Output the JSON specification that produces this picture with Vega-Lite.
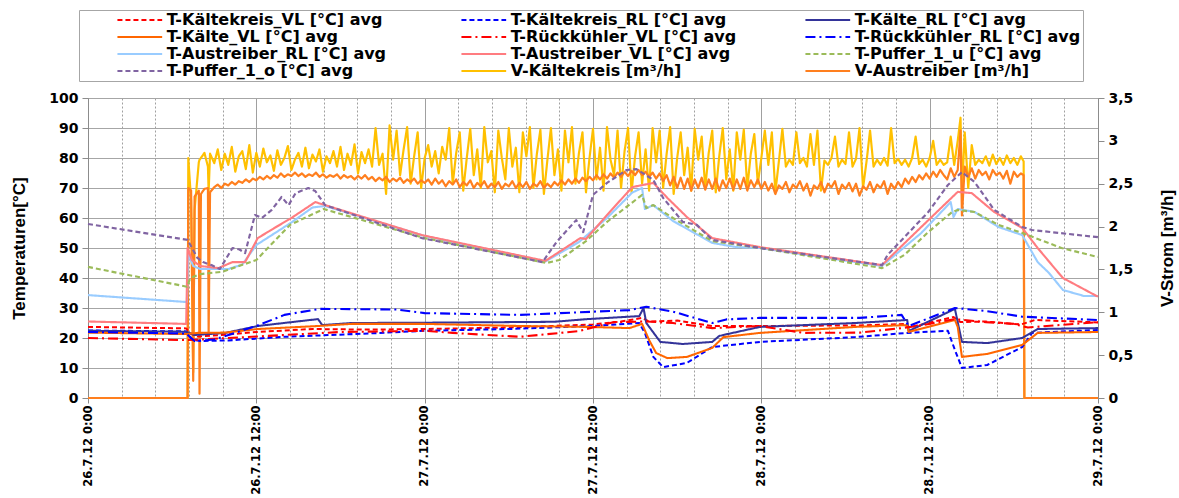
{
"$schema": "https://vega.github.io/schema/vega-lite/v6.json",
"width": 1010, "height": 300,
"autosize": "none",
"padding": {"left": 88, "top": 98, "right": 81, "bottom": 100},
"background": "white",
"config": {"view": {"stroke": "#A0A0A0"}, "font": "DejaVu Sans"},
"datasets": {
"v": [
{"h":0,"k":0,"l":0},{"h":7.1,"k":0,"l":0},{"h":7.15,"k":2.8,"l":2.45},{"h":7.35,"k":2.3,"l":2.42},{"h":7.5,"k":0.3,"l":0.2},{"h":7.6,"k":2.2,"l":2.35},{"h":7.9,"k":2.75,"l":2.42},{"h":7.95,"k":2.78,"l":0.05},{"h":8.05,"k":2.8,"l":2.38},{"h":8.3,"k":2.86,"l":2.44},{"h":8.55,"k":2.7,"l":2.45},{"h":8.6,"k":2.4,"l":0.77},{"h":8.7,"k":2.85,"l":2.4},
{"h":9.0,"k":2.74,"l":2.46},{"h":9.25,"k":2.9,"l":2.49},{"h":9.5,"k":2.66,"l":2.45},{"h":9.75,"k":2.85,"l":2.5},{"h":10.0,"k":2.72,"l":2.48},{"h":10.25,"k":2.93,"l":2.52},{"h":10.5,"k":2.64,"l":2.49},{"h":10.75,"k":2.82,"l":2.53},{"h":11.0,"k":2.88,"l":2.51},{"h":11.25,"k":2.67,"l":2.55},{"h":11.5,"k":2.95,"l":2.52},{"h":11.75,"k":2.63,"l":2.56},{"h":12.0,"k":2.86,"l":2.54},{"h":12.25,"k":2.7,"l":2.58},{"h":12.5,"k":2.91,"l":2.55},{"h":12.75,"k":2.75,"l":2.59},{"h":13.0,"k":2.83,"l":2.56},{"h":13.25,"k":2.65,"l":2.6},{"h":13.5,"k":2.89,"l":2.57},{"h":13.75,"k":2.72,"l":2.62},{"h":14.0,"k":2.8,"l":2.58},{"h":14.25,"k":2.94,"l":2.61},{"h":14.5,"k":2.66,"l":2.59},{"h":14.75,"k":2.78,"l":2.63},{"h":15.0,"k":2.86,"l":2.59},{"h":15.25,"k":2.7,"l":2.62},{"h":15.5,"k":2.92,"l":2.58},{"h":15.75,"k":2.68,"l":2.61},{"h":16.0,"k":2.84,"l":2.59},{"h":16.25,"k":2.76,"l":2.63},{"h":16.5,"k":2.9,"l":2.58},{"h":16.75,"k":2.64,"l":2.61},{"h":17.0,"k":2.82,"l":2.57},{"h":17.25,"k":2.74,"l":2.6},{"h":17.5,"k":2.88,"l":2.58},{"h":17.75,"k":2.7,"l":2.61},{"h":18.0,"k":2.93,"l":2.56},{"h":18.25,"k":2.66,"l":2.6},{"h":18.5,"k":2.85,"l":2.57},{"h":18.75,"k":2.72,"l":2.59},{"h":19.0,"k":2.96,"l":2.55},{"h":19.25,"k":2.62,"l":2.59},{"h":19.5,"k":2.87,"l":2.56},{"h":19.75,"k":2.74,"l":2.6},{"h":20.0,"k":2.9,"l":2.55},
{"h":20.25,"k":2.7,"l":2.58},{"h":20.5,"k":3.15,"l":2.53},{"h":20.75,"k":2.72,"l":2.57},{"h":21.0,"k":2.85,"l":2.54},{"h":21.25,"k":2.38,"l":2.58},{"h":21.5,"k":3.18,"l":2.52},{"h":21.75,"k":2.78,"l":2.56},{"h":22.0,"k":3.12,"l":2.53},{"h":22.25,"k":2.6,"l":2.57},{"h":22.5,"k":2.9,"l":2.51},{"h":22.75,"k":3.16,"l":2.55},{"h":23.0,"k":2.5,"l":2.52},{"h":23.25,"k":2.82,"l":2.56},{"h":23.5,"k":3.1,"l":2.5},{"h":23.75,"k":2.45,"l":2.54},{"h":24.0,"k":2.8,"l":2.51},
{"h":24.25,"k":2.95,"l":2.55},{"h":24.5,"k":2.7,"l":2.49},{"h":24.75,"k":2.88,"l":2.56},{"h":25.0,"k":2.62,"l":2.5},{"h":25.25,"k":2.93,"l":2.54},{"h":25.5,"k":2.78,"l":2.47},{"h":25.75,"k":3.15,"l":2.53},{"h":26.0,"k":2.5,"l":2.49},{"h":26.25,"k":2.86,"l":2.55},{"h":26.5,"k":3.1,"l":2.46},{"h":26.75,"k":2.42,"l":2.52},{"h":27.0,"k":2.8,"l":2.48},{"h":27.25,"k":3.14,"l":2.54},{"h":27.5,"k":2.6,"l":2.45},{"h":27.75,"k":2.9,"l":2.51},{"h":28.0,"k":2.45,"l":2.47},{"h":28.25,"k":3.16,"l":2.53},{"h":28.5,"k":2.75,"l":2.45},{"h":28.75,"k":2.88,"l":2.5},{"h":29.0,"k":2.4,"l":2.46},{"h":29.25,"k":3.12,"l":2.52},{"h":29.5,"k":2.8,"l":2.44},{"h":29.75,"k":2.55,"l":2.5},{"h":30.0,"k":3.15,"l":2.47},{"h":30.25,"k":2.7,"l":2.53},{"h":30.5,"k":2.92,"l":2.45},{"h":30.75,"k":2.4,"l":2.51},{"h":31.0,"k":3.1,"l":2.46},{"h":31.25,"k":2.82,"l":2.52},{"h":31.5,"k":3.16,"l":2.44},{"h":31.75,"k":2.45,"l":2.5},{"h":32.0,"k":2.85,"l":2.47},{"h":32.25,"k":3.13,"l":2.53},{"h":32.5,"k":2.38,"l":2.45},{"h":32.75,"k":2.78,"l":2.5},{"h":33.0,"k":3.15,"l":2.46},{"h":33.25,"k":2.6,"l":2.52},{"h":33.5,"k":2.9,"l":2.48},{"h":33.75,"k":2.42,"l":2.54},{"h":34.0,"k":3.12,"l":2.49},{"h":34.25,"k":2.75,"l":2.55},{"h":34.5,"k":3.16,"l":2.5},{"h":34.75,"k":2.5,"l":2.56},{"h":35.0,"k":2.86,"l":2.51},{"h":35.25,"k":3.1,"l":2.57},{"h":35.5,"k":2.4,"l":2.53},{"h":35.75,"k":2.8,"l":2.58},{"h":36.0,"k":3.14,"l":2.54},{"h":36.25,"k":2.55,"l":2.6},{"h":36.5,"k":2.92,"l":2.55},{"h":36.75,"k":2.42,"l":2.61},{"h":37.0,"k":3.16,"l":2.56},{"h":37.25,"k":2.78,"l":2.62},{"h":37.5,"k":2.6,"l":2.57},{"h":37.75,"k":3.12,"l":2.63},{"h":38.0,"k":2.45,"l":2.58},{"h":38.25,"k":2.88,"l":2.64},{"h":38.5,"k":3.15,"l":2.59},{"h":38.75,"k":2.4,"l":2.65},{"h":39.0,"k":2.82,"l":2.6},{"h":39.25,"k":3.1,"l":2.66},{"h":39.5,"k":2.5,"l":2.6},{"h":39.75,"k":2.9,"l":2.64},{"h":40.0,"k":2.42,"l":2.58},{"h":40.25,"k":3.15,"l":2.63},{"h":40.5,"k":2.75,"l":2.56},{"h":40.75,"k":3.12,"l":2.62},{"h":41.0,"k":2.45,"l":2.53},{"h":41.25,"k":2.85,"l":2.6},{"h":41.5,"k":3.16,"l":2.48},{"h":41.75,"k":2.38,"l":2.58},{"h":42.0,"k":2.8,"l":2.45},{"h":42.25,"k":3.1,"l":2.57},{"h":42.5,"k":2.6,"l":2.44},{"h":42.75,"k":2.92,"l":2.56},{"h":43.0,"k":2.42,"l":2.42},{"h":43.25,"k":3.14,"l":2.55},{"h":43.5,"k":2.78,"l":2.45},{"h":43.75,"k":3.05,"l":2.57},{"h":44.0,"k":2.45,"l":2.43},{"h":44.25,"k":2.86,"l":2.55},{"h":44.5,"k":3.12,"l":2.44},{"h":44.75,"k":2.4,"l":2.56},{"h":45.0,"k":2.82,"l":2.42},{"h":45.25,"k":3.15,"l":2.54},{"h":45.5,"k":2.55,"l":2.45},{"h":45.75,"k":2.9,"l":2.56},{"h":46.0,"k":2.42,"l":2.43},{"h":46.25,"k":3.1,"l":2.55},{"h":46.5,"k":2.78,"l":2.44},{"h":46.75,"k":3.13,"l":2.57},{"h":47.0,"k":2.45,"l":2.42},{"h":47.25,"k":2.85,"l":2.54},{"h":47.5,"k":3.08,"l":2.46},{"h":47.75,"k":2.5,"l":2.55},{"h":48.0,"k":2.8,"l":2.44},
{"h":48.25,"k":3.12,"l":2.52},{"h":48.5,"k":2.72,"l":2.42},{"h":48.75,"k":3.1,"l":2.5},{"h":49.0,"k":2.4,"l":2.38},{"h":49.25,"k":2.76,"l":2.48},{"h":49.5,"k":3.14,"l":2.44},{"h":49.75,"k":2.7,"l":2.52},{"h":50.0,"k":2.78,"l":2.4},{"h":50.25,"k":2.72,"l":2.49},{"h":50.5,"k":3.1,"l":2.45},{"h":50.75,"k":2.74,"l":2.53},{"h":51.0,"k":2.8,"l":2.42},{"h":51.25,"k":2.7,"l":2.5},{"h":51.5,"k":3.08,"l":2.36},{"h":51.75,"k":2.72,"l":2.48},{"h":52.0,"k":3.12,"l":2.44},{"h":52.25,"k":2.42,"l":2.52},{"h":52.5,"k":2.77,"l":2.4},{"h":52.75,"k":2.72,"l":2.5},{"h":53.0,"k":2.8,"l":2.46},{"h":53.25,"k":3.05,"l":2.53},{"h":53.5,"k":2.7,"l":2.38},{"h":53.75,"k":2.78,"l":2.49},{"h":54.0,"k":2.73,"l":2.44},{"h":54.25,"k":3.1,"l":2.51},{"h":54.5,"k":2.7,"l":2.41},{"h":54.75,"k":2.79,"l":2.5},{"h":55.0,"k":3.15,"l":2.36},{"h":55.25,"k":2.45,"l":2.47},{"h":55.5,"k":2.76,"l":2.43},{"h":55.75,"k":3.12,"l":2.52},{"h":56.0,"k":2.7,"l":2.4},{"h":56.25,"k":2.78,"l":2.49},{"h":56.5,"k":2.72,"l":2.45},{"h":56.75,"k":2.8,"l":2.53},{"h":57.0,"k":2.71,"l":2.38},{"h":57.25,"k":3.15,"l":2.5},{"h":57.5,"k":2.74,"l":2.44},{"h":57.75,"k":2.79,"l":2.52},{"h":58.0,"k":2.72,"l":2.46},{"h":58.25,"k":2.78,"l":2.56},{"h":58.5,"k":2.7,"l":2.5},{"h":58.75,"k":2.8,"l":2.58},{"h":59.0,"k":3.05,"l":2.52},{"h":59.25,"k":2.73,"l":2.6},{"h":59.5,"k":2.78,"l":2.55},{"h":59.75,"k":2.7,"l":2.62},{"h":60.0,"k":2.8,"l":2.56},{"h":60.25,"k":3.0,"l":2.64},{"h":60.5,"k":2.72,"l":2.58},{"h":60.75,"k":2.78,"l":2.66},{"h":61.0,"k":2.72,"l":2.6},
{"h":61.25,"k":2.75,"l":2.55},{"h":61.5,"k":3.05,"l":2.68},{"h":61.75,"k":2.72,"l":2.58},{"h":62.0,"k":3.0,"l":2.66},{"h":62.2,"k":3.27,"l":3.12},{"h":62.3,"k":2.4,"l":2.13},{"h":62.5,"k":3.1,"l":2.7},{"h":62.75,"k":2.45,"l":2.58},{"h":63.0,"k":2.95,"l":2.68},{"h":63.25,"k":2.72,"l":2.56},{"h":63.5,"k":2.78,"l":2.66},{"h":63.75,"k":2.74,"l":2.6},{"h":64.0,"k":2.82,"l":2.64},{"h":64.25,"k":2.71,"l":2.55},{"h":64.5,"k":2.84,"l":2.66},{"h":64.75,"k":2.73,"l":2.6},{"h":65.0,"k":2.8,"l":2.63},{"h":65.25,"k":2.72,"l":2.56},{"h":65.5,"k":2.83,"l":2.65},{"h":65.75,"k":2.74,"l":2.5},{"h":66.0,"k":2.8,"l":2.64},{"h":66.25,"k":2.72,"l":2.58},{"h":66.5,"k":2.82,"l":2.62},{"h":66.7,"k":2.76,"l":2.6},{"h":66.75,"k":0,"l":0},{"h":72,"k":0,"l":0}
],
"t": [
{"s":"a","h":0,"v":23.7},{"s":"a","h":7.0,"v":23.2},{"s":"a","h":7.3,"v":21.5},{"s":"a","h":7.8,"v":20.5},{"s":"a","h":9.5,"v":21},{"s":"a","h":12,"v":22},{"s":"a","h":16,"v":23},{"s":"a","h":20,"v":22.8},{"s":"a","h":24,"v":23},{"s":"a","h":30,"v":23.5},{"s":"a","h":36,"v":24.5},{"s":"a","h":38,"v":25.5},{"s":"a","h":39.5,"v":26.7},{"s":"a","h":40,"v":25.5},{"s":"a","h":42,"v":25.8},{"s":"a","h":44.5,"v":24},{"s":"a","h":48,"v":24},{"s":"a","h":55,"v":24.2},{"s":"a","h":58.3,"v":24.7},{"s":"a","h":58.5,"v":23.5},{"s":"a","h":61.7,"v":27},{"s":"a","h":62.2,"v":25.3},{"s":"a","h":64,"v":25.5},{"s":"a","h":66.5,"v":24.5},{"s":"a","h":67.5,"v":26},{"s":"a","h":72,"v":25.2},
{"s":"b","h":0,"v":22.5},{"s":"b","h":7.0,"v":22.2},{"s":"b","h":7.4,"v":19.5},{"s":"b","h":8,"v":19},{"s":"b","h":10,"v":19.2},{"s":"b","h":14,"v":20.4},{"s":"b","h":20,"v":21.5},{"s":"b","h":24,"v":22.4},{"s":"b","h":30,"v":23},{"s":"b","h":36,"v":24},{"s":"b","h":39.3,"v":25},{"s":"b","h":39.7,"v":21.7},{"s":"b","h":40.3,"v":13.7},{"s":"b","h":41,"v":10.3},{"s":"b","h":42.7,"v":11.7},{"s":"b","h":44.5,"v":17},{"s":"b","h":47.9,"v":18.7},{"s":"b","h":54.7,"v":20.3},{"s":"b","h":58.4,"v":21.7},{"s":"b","h":61.3,"v":22.4},{"s":"b","h":61.8,"v":16},{"s":"b","h":62.3,"v":10},{"s":"b","h":64.1,"v":11},{"s":"b","h":66.6,"v":17},{"s":"b","h":67.3,"v":21.7},{"s":"b","h":72,"v":22.7},
{"s":"c","h":0,"v":22.4},{"s":"c","h":7.0,"v":22.1},{"s":"c","h":7.6,"v":21},{"s":"c","h":9.8,"v":21.7},{"s":"c","h":12.1,"v":24},{"s":"c","h":16.4,"v":26.3},{"s":"c","h":16.7,"v":24.3},{"s":"c","h":18.8,"v":25},{"s":"c","h":24,"v":25.1},{"s":"c","h":33.2,"v":25.4},{"s":"c","h":35.6,"v":26.3},{"s":"c","h":39.3,"v":27.3},{"s":"c","h":39.6,"v":30},{"s":"c","h":39.8,"v":25},{"s":"c","h":40.8,"v":18.7},{"s":"c","h":42.4,"v":18},{"s":"c","h":44.5,"v":18.7},{"s":"c","h":45,"v":20.7},{"s":"c","h":47.9,"v":23.7},{"s":"c","h":54.7,"v":25},{"s":"c","h":58.4,"v":26},{"s":"c","h":58.5,"v":22.3},{"s":"c","h":61.8,"v":29.7},{"s":"c","h":62.3,"v":18.7},{"s":"c","h":64.1,"v":18.3},{"s":"c","h":66.6,"v":20},{"s":"c","h":67.7,"v":23},{"s":"c","h":72,"v":23.3},
{"s":"d","h":0,"v":21.8},{"s":"d","h":7.0,"v":21.3},{"s":"d","h":7.8,"v":21.7},{"s":"d","h":9.8,"v":21.8},{"s":"d","h":12.1,"v":23},{"s":"d","h":16.4,"v":24},{"s":"d","h":18.8,"v":24.7},{"s":"d","h":24,"v":24.7},{"s":"d","h":30.8,"v":24},{"s":"d","h":35.6,"v":23.7},{"s":"d","h":38.6,"v":23.3},{"s":"d","h":39.5,"v":24.7},{"s":"d","h":40,"v":19.3},{"s":"d","h":40.5,"v":15},{"s":"d","h":41.3,"v":13.3},{"s":"d","h":42.7,"v":13.7},{"s":"d","h":44.5,"v":16.7},{"s":"d","h":45.3,"v":20.3},{"s":"d","h":47.9,"v":21.7},{"s":"d","h":54.7,"v":23.7},{"s":"d","h":58.4,"v":24.3},{"s":"d","h":58.5,"v":22},{"s":"d","h":61.8,"v":26},{"s":"d","h":62,"v":23.7},{"s":"d","h":62.3,"v":13.7},{"s":"d","h":64.1,"v":14.7},{"s":"d","h":66.6,"v":17.7},{"s":"d","h":67.7,"v":21.7},{"s":"d","h":72,"v":22},
{"s":"e","h":0,"v":20},{"s":"e","h":7.0,"v":19.3},{"s":"e","h":8,"v":19.5},{"s":"e","h":12,"v":20.5},{"s":"e","h":18,"v":22},{"s":"e","h":24,"v":22.4},{"s":"e","h":26,"v":21.7},{"s":"e","h":30.8,"v":20.4},{"s":"e","h":35,"v":22.3},{"s":"e","h":37.5,"v":25.3},{"s":"e","h":39.8,"v":25.5},{"s":"e","h":41.7,"v":25},{"s":"e","h":44.5,"v":23.3},{"s":"e","h":47.9,"v":24},{"s":"e","h":51,"v":21.7},{"s":"e","h":55,"v":21.8},{"s":"e","h":58,"v":23.3},{"s":"e","h":59.5,"v":24.3},{"s":"e","h":61.8,"v":26.3},{"s":"e","h":64,"v":25.3},{"s":"e","h":66,"v":24.7},{"s":"e","h":67,"v":23.5},{"s":"e","h":72,"v":25.3},
{"s":"f","h":0,"v":22},{"s":"f","h":7.0,"v":21.5},{"s":"f","h":7.6,"v":19},{"s":"f","h":9,"v":19.5},{"s":"f","h":12,"v":24},{"s":"f","h":14,"v":27.7},{"s":"f","h":16.5,"v":29.7},{"s":"f","h":22,"v":29.5},{"s":"f","h":24,"v":28.3},{"s":"f","h":30.8,"v":27.7},{"s":"f","h":38.6,"v":29.3},{"s":"f","h":39.8,"v":30.4},{"s":"f","h":41.7,"v":28.8},{"s":"f","h":44.5,"v":25},{"s":"f","h":45.5,"v":26.2},{"s":"f","h":47.9,"v":26.7},{"s":"f","h":55,"v":26.7},{"s":"f","h":58,"v":27.7},{"s":"f","h":58.5,"v":24},{"s":"f","h":61.8,"v":30},{"s":"f","h":64,"v":29},{"s":"f","h":66.6,"v":27.1},{"s":"f","h":72,"v":26},
{"s":"g","h":0,"v":34.3},{"s":"g","h":7.0,"v":32},{"s":"g","h":7.05,"v":32},{"s":"g","h":7.15,"v":48},{"s":"g","h":7.5,"v":44},{"s":"g","h":8,"v":43},{"s":"g","h":10,"v":43},{"s":"g","h":11,"v":44.5},{"s":"g","h":12,"v":51},{"s":"g","h":14.5,"v":58.5},{"s":"g","h":16,"v":63.5},{"s":"g","h":16.9,"v":64},{"s":"g","h":24,"v":54},{"s":"g","h":32.6,"v":45.5},{"s":"g","h":35,"v":52},{"s":"g","h":37,"v":60},{"s":"g","h":38.8,"v":68.5},{"s":"g","h":39.5,"v":70},{"s":"g","h":39.7,"v":63},{"s":"g","h":40.3,"v":64.3},{"s":"g","h":41.7,"v":59},{"s":"g","h":44.5,"v":51.7},{"s":"g","h":46.2,"v":50.3},{"s":"g","h":47.9,"v":50},{"s":"g","h":56.6,"v":44},{"s":"g","h":59.4,"v":55},{"s":"g","h":61.5,"v":65.3},{"s":"g","h":61.7,"v":60.3},{"s":"g","h":62,"v":63},{"s":"g","h":63.2,"v":62},{"s":"g","h":64.9,"v":57},{"s":"g","h":66.6,"v":54.3},{"s":"g","h":67.7,"v":45.3},{"s":"g","h":68.5,"v":41.7},{"s":"g","h":69.5,"v":36},{"s":"g","h":71,"v":34},{"s":"g","h":72,"v":34},
{"s":"h","h":0,"v":25.5},{"s":"h","h":7.0,"v":24.7},{"s":"h","h":7.1,"v":50},{"s":"h","h":7.4,"v":46},{"s":"h","h":8,"v":44},{"s":"h","h":9.3,"v":43.3},{"s":"h","h":10.3,"v":45.3},{"s":"h","h":11.2,"v":45.3},{"s":"h","h":12.1,"v":53.3},{"s":"h","h":13.3,"v":56.7},{"s":"h","h":14.5,"v":60},{"s":"h","h":16.2,"v":65.3},{"s":"h","h":16.9,"v":64.3},{"s":"h","h":23.8,"v":54.3},{"s":"h","h":32.6,"v":45.7},{"s":"h","h":35.1,"v":53.3},{"s":"h","h":35.5,"v":53},{"s":"h","h":37,"v":61},{"s":"h","h":38.8,"v":70.3},{"s":"h","h":40.3,"v":71.7},{"s":"h","h":41.3,"v":66.7},{"s":"h","h":42.7,"v":60.3},{"s":"h","h":44.5,"v":53.3},{"s":"h","h":47.9,"v":50.3},{"s":"h","h":56.6,"v":44.3},{"s":"h","h":59.4,"v":57},{"s":"h","h":62,"v":68.7},{"s":"h","h":63,"v":68.3},{"s":"h","h":64.6,"v":62},{"s":"h","h":66.6,"v":56.7},{"s":"h","h":67.7,"v":50},{"s":"h","h":68.9,"v":43.3},{"s":"h","h":69.5,"v":40},{"s":"h","h":71.9,"v":34},{"s":"h","h":72,"v":33.8},
{"s":"i","h":0,"v":43.7},{"s":"i","h":7.05,"v":37.1},{"s":"i","h":7.3,"v":40},{"s":"i","h":8,"v":41.3},{"s":"i","h":9.6,"v":42.1},{"s":"i","h":12,"v":46},{"s":"i","h":14.4,"v":57.7},{"s":"i","h":16.8,"v":63},{"s":"i","h":24,"v":53.3},{"s":"i","h":32.7,"v":45},{"s":"i","h":33.6,"v":46},{"s":"i","h":35.5,"v":52.3},{"s":"i","h":37,"v":58.7},{"s":"i","h":39.5,"v":67.7},{"s":"i","h":39.8,"v":63.3},{"s":"i","h":40.3,"v":64.3},{"s":"i","h":41.7,"v":60},{"s":"i","h":44.5,"v":52.3},{"s":"i","h":47.9,"v":50},{"s":"i","h":56.6,"v":43.3},{"s":"i","h":58.2,"v":47.7},{"s":"i","h":59.9,"v":55.3},{"s":"i","h":61.6,"v":62},{"s":"i","h":62,"v":62.7},{"s":"i","h":63.2,"v":62},{"s":"i","h":64.9,"v":57.7},{"s":"i","h":66.6,"v":55},{"s":"i","h":69.4,"v":50},{"s":"i","h":72,"v":47},
{"s":"j","h":0,"v":58},{"s":"j","h":7.1,"v":52.7},{"s":"j","h":7.8,"v":46.7},{"s":"j","h":8.2,"v":45.3},{"s":"j","h":8.8,"v":44.3},{"s":"j","h":9.4,"v":43},{"s":"j","h":10.3,"v":50},{"s":"j","h":10.8,"v":49.5},{"s":"j","h":11.2,"v":48.3},{"s":"j","h":11.9,"v":61},{"s":"j","h":12.4,"v":60},{"s":"j","h":13.1,"v":62.7},{"s":"j","h":13.8,"v":67},{"s":"j","h":14.3,"v":64.3},{"s":"j","h":14.8,"v":68.3},{"s":"j","h":15.7,"v":70},{"s":"j","h":16.2,"v":69},{"s":"j","h":16.9,"v":64.3},{"s":"j","h":23.8,"v":53.3},{"s":"j","h":32.4,"v":45.3},{"s":"j","h":33.4,"v":52},{"s":"j","h":34.8,"v":59.3},{"s":"j","h":35.3,"v":55.3},{"s":"j","h":36,"v":67.7},{"s":"j","h":37,"v":71.7},{"s":"j","h":38.4,"v":76},{"s":"j","h":39.1,"v":76.3},{"s":"j","h":40.3,"v":72.7},{"s":"j","h":41,"v":66.7},{"s":"j","h":42.4,"v":58.7},{"s":"j","h":43.4,"v":57.7},{"s":"j","h":44.5,"v":52.7},{"s":"j","h":47.9,"v":50},{"s":"j","h":56.6,"v":44.3},{"s":"j","h":57,"v":47.7},{"s":"j","h":59.9,"v":62},{"s":"j","h":61.3,"v":71},{"s":"j","h":62.3,"v":75.3},{"s":"j","h":63.2,"v":72},{"s":"j","h":64.6,"v":62.7},{"s":"j","h":66.6,"v":57},{"s":"j","h":67.3,"v":56},{"s":"j","h":72,"v":53.6}
]
},
"layer": [
{
"data": {"name": "v"},
"transform": [{"fold": ["k", "l"], "as": ["s", "v"]}],
"mark": {"type": "line", "strokeJoin": "round"},
"encoding": {
"x": {"field": "h", "type": "quantitative", "scale": {"domain": [0, 72], "nice": false, "zero": false}, "axis": {"title": null, "values": [0,2.4,4.8,7.2,9.6,12,14.4,16.8,19.2,21.6,24,26.4,28.8,31.2,33.6,36,38.4,40.8,43.2,45.6,48,50.4,52.8,55.2,57.6,60,62.4,64.8,67.2,69.6,72], "grid": true, "gridColor": "#A0A0A0", "gridWidth": 1, "gridDash": {"condition": {"test": "datum.value % 12 === 0", "value": []}, "value": [2, 2]}, "domainColor": "#8C8C8C", "tickColor": "#8C8C8C", "tickSize": {"condition": {"test": "datum.value % 12 === 0", "value": 5}, "value": 0}, "labelAngle": 270, "labelExpr": "datum.value % 12 === 0 ? ['26.7.12 0:00','26.7.12 12:00','27.7.12 0:00','27.7.12 12:00','28.7.12 0:00','28.7.12 12:00','29.7.12 0:00'][datum.value / 12] : ''", "labelFont": "DejaVu Sans", "labelFontWeight": "bold", "labelFontSize": 11.5, "labelColor": "black", "labelPadding": 2, "labelOverlap": false, "labelFlush": false, "labelBound": false}},
"y": {"field": "v", "type": "quantitative", "scale": {"domain": [0, 3.5], "nice": false}, "axis": {"orient": "right", "values": [0,0.5,1,1.5,2,2.5,3,3.5], "grid": false, "domainColor": "#8C8C8C", "tickColor": "#8C8C8C", "tickSize": 6, "labelExpr": "replace(toString(datum.value), '.', ',')", "labelFont": "DejaVu Sans", "labelFontWeight": "bold", "labelFontSize": 14, "labelColor": "black", "labelPadding": 4, "labelFlush": false, "title": "V-Strom [m³/h]", "titleAngle": 270, "titleFont": "Liberation Sans", "titleFontWeight": "bold", "titleFontSize": 17, "titleColor": "black", "titlePadding": 44}},
"color": {"field": "s", "type": "nominal", "scale": {"domain": ["a","b","c","d","e","f","g","h","i","j","k","l"], "range": ["#FF0000","#0000FF","#333399","#FF6600","#FF0000","#0000FF","#99CCFF","#FF7C80","#9BBB59","#8064A2","#FFC000","#FF7F1E"]}, "legend": {"orient": "none", "legendX": -9, "legendY": -88, "columns": 3, "direction": "horizontal", "title": null, "symbolType": "M-4,0H4", "symbolSize": 125, "symbolStrokeWidth": 2.5, "symbolOffset": 50.8, "labelOffset": 19, "labelFont": "DejaVu Sans", "labelFontWeight": "bold", "labelFontSize": 16, "labelColor": "black", "labelLimit": 0, "labelExpr": "['T-Kältekreis_VL [°C] avg','T-Kältekreis_RL [°C] avg','T-Kälte_RL [°C] avg','T-Kälte_VL [°C] avg','T-Rückkühler_VL [°C] avg','T-Rückkühler_RL [°C] avg','T-Austreiber_RL [°C] avg','T-Austreiber_VL [°C] avg','T-Puffer_1_u [°C] avg','T-Puffer_1_o [°C] avg','V-Kältekreis [m³/h]','V-Austreiber [m³/h]'][indexof('abcdefghijkl', datum.label)]", "columnPadding": 32, "rowPadding": 1, "gridAlign": "all", "strokeColor": "#A6A6A6", "fillColor": "white", "padding": 2}},
"strokeDash": {"field": "s", "type": "nominal", "scale": {"domain": ["a","b","c","d","e","f","g","h","i","j","k","l"], "range": [[5,3],[5,3],[1,0],[1,0],[10,4,2,4],[10,4,2,4],[1,0],[1,0],[5,3],[5,3],[1,0],[1,0]]}},
"strokeWidth": {"field": "s", "type": "nominal", "scale": {"domain": ["a","b","c","d","e","f","g","h","i","j","k","l"], "range": [2,2.2,1.8,2.5,2,2.2,2,2,2,2.2,1.2,1.2]}, "legend": null}
}
},
{
"data": {"name": "t"},
"mark": {"type": "line", "strokeJoin": "round"},
"encoding": {
"x": {"field": "h", "type": "quantitative", "scale": {"domain": [0, 72], "nice": false, "zero": false}, "axis": {"title": null, "values": [0,2.4,4.8,7.2,9.6,12,14.4,16.8,19.2,21.6,24,26.4,28.8,31.2,33.6,36,38.4,40.8,43.2,45.6,48,50.4,52.8,55.2,57.6,60,62.4,64.8,67.2,69.6,72], "grid": true, "gridColor": "#A0A0A0", "gridWidth": 1, "gridDash": {"condition": {"test": "datum.value % 12 === 0", "value": []}, "value": [2, 2]}, "domainColor": "#8C8C8C", "tickColor": "#8C8C8C", "tickSize": {"condition": {"test": "datum.value % 12 === 0", "value": 5}, "value": 0}, "labelAngle": 270, "labelExpr": "datum.value % 12 === 0 ? ['26.7.12 0:00','26.7.12 12:00','27.7.12 0:00','27.7.12 12:00','28.7.12 0:00','28.7.12 12:00','29.7.12 0:00'][datum.value / 12] : ''", "labelFont": "DejaVu Sans", "labelFontWeight": "bold", "labelFontSize": 11.5, "labelColor": "black", "labelPadding": 2, "labelOverlap": false, "labelFlush": false, "labelBound": false}},
"y": {"field": "v", "type": "quantitative", "scale": {"domain": [0, 100], "nice": false}, "axis": {"orient": "left", "values": [0,10,20,30,40,50,60,70,80,90,100], "grid": true, "gridColor": "#A6A6A6", "gridWidth": 1, "domainColor": "#8C8C8C", "tickColor": "#8C8C8C", "tickSize": 6, "labelFont": "DejaVu Sans", "labelFontWeight": "bold", "labelFontSize": 14, "labelColor": "black", "labelPadding": 4, "labelFlush": false, "title": "Temperaturen[°C]", "titleFont": "Liberation Sans", "titleFontWeight": "bold", "titleFontSize": 17, "titleColor": "black", "titlePadding": 20}},
"color": {"field": "s", "type": "nominal", "scale": {"domain": ["a","b","c","d","e","f","g","h","i","j","k","l"]}},
"strokeDash": {"field": "s", "type": "nominal", "scale": {"domain": ["a","b","c","d","e","f","g","h","i","j","k","l"]}},
"strokeWidth": {"field": "s", "type": "nominal", "scale": {"domain": ["a","b","c","d","e","f","g","h","i","j","k","l"]}, "legend": null}
}
}
],
"resolve": {"scale": {"y": "independent"}}
}
